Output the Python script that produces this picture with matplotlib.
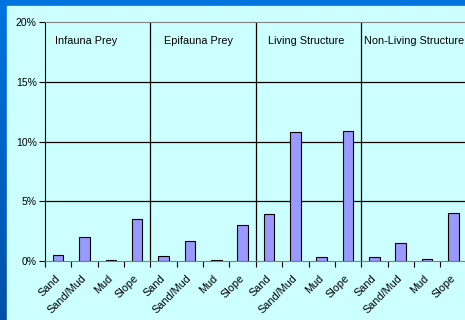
import numpy as np
import matplotlib.pyplot as plt
from matplotlib.patches import Rectangle

plt.rcParams['font.family'] = ['Liberation Sans', 'DejaVu Sans']

# Data
groups = ["Infauna Prey", "Epifauna Prey", "Living Structure", "Non-Living Structure"]
habitats = ["Sand", "Sand/Mud", "Mud", "Slope"]
infauna = [0.5, 2.0, 0.1, 3.5]
epifauna = [0.4, 1.7, 0.05, 3.0]
living = [3.9, 10.8, 0.35, 10.9]
nonliving = [0.35, 1.5, 0.15, 4.05]

values = infauna + epifauna + living + nonliving
labels = habitats * len(groups)

fig = plt.figure(figsize=(4.65, 3.2), dpi=100)

# Blue slide background with light cyan panel
grad = np.linspace(0, 1, 256).reshape(-1, 1)
bg = fig.add_axes([0, 0, 1, 1], zorder=-2)
bg.imshow(grad, aspect='auto', extent=[0, 1, 0, 1],
          cmap=plt.matplotlib.colors.LinearSegmentedColormap.from_list(
              'bg', ['#0050a8', '#0074e0']), origin='lower')
bg.add_patch(Rectangle((7 / 465, 0), 1, 1 - 6 / 320, color='#ccffff'))
bg.set_xlim(0, 1)
bg.set_ylim(0, 1)
bg.axis('off')

cat_px = 26.35
ax = fig.add_axes([45 / 465, 1 - 261 / 320, 16 * cat_px / 465, 239 / 320])
ax.set_facecolor('none')

x = np.arange(len(values))
ax.bar(x, values, width=0.4, color='#9999ff', edgecolor='black', linewidth=0.8, zorder=3)

ax.set_xlim(-0.5, len(values) - 0.5)
ax.set_ylim(0, 20)
ax.set_yticks([0, 5, 10, 15, 20])
ax.set_yticklabels(["0%", "5%", "10%", "15%", "20%"], fontsize=7.5)
ax.tick_params(axis='y', length=4, width=0.8, pad=2, color='black')

# Category boundary ticks, labels at centres
ax.set_xticks(np.arange(len(values) + 1) - 0.5)
ax.set_xticklabels([])
ax.set_xticks(x, minor=True)
ax.set_xticklabels(labels, minor=True, rotation=45, ha='right', va='center',
                   rotation_mode='anchor', fontsize=7.8)
ax.tick_params(axis='x', which='major', length=4, width=0.8, color='black')
ax.tick_params(axis='x', which='minor', length=0, pad=11.5)

for y in [5, 10, 15]:
    ax.axhline(y, color='black', linewidth=0.9, zorder=1)
for b in [3.5, 7.5, 11.5]:
    ax.axvline(b, color='black', linewidth=0.9, zorder=1)

for s in ['top', 'right', 'bottom']:
    ax.spines[s].set_color('#808080')
ax.spines['left'].set_color('black')

# Section titles, placed by their left edge in pixels
title_px = [55, 164, 268, 364]
for g, px in zip(groups, title_px):
    ax.text((px - 45) / cat_px - 0.5, 18.4, g, fontsize=7.8, ha='left', va='center')

fig.savefig('out.png', dpi=100)
